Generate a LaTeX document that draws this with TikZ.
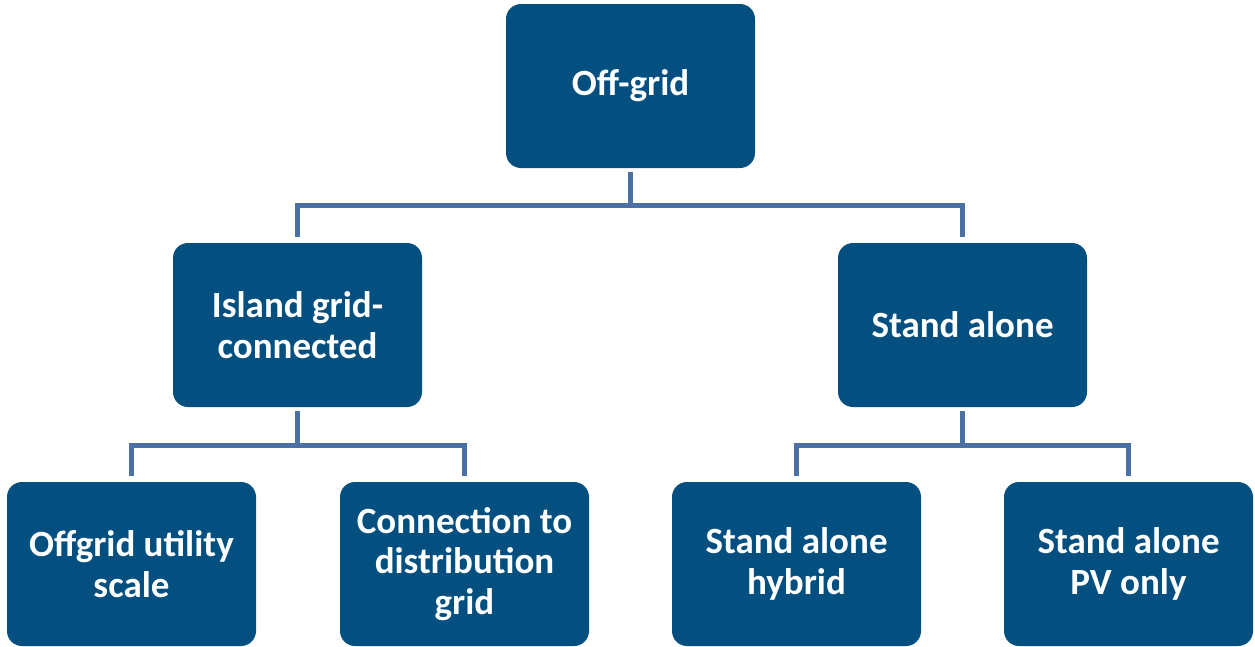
\documentclass[tikz,border=0pt]{standalone}
\usepackage{fontspec}
\setmainfont{Carlito}
\definecolor{boxblue}{RGB}{3,79,127}
\definecolor{linkblue}{RGB}{74,112,166}
\begin{document}
\begin{tikzpicture}[x=1pt,y=-1pt,
  box/.style={draw=none,fill=boxblue,rounded corners=15pt,minimum width=249pt,minimum height=164pt,
    text=white,font=\fontsize{37}{40.5}\selectfont\bfseries,align=center,inner sep=0pt},
  conn/.style={draw=linkblue,line width=5pt,shorten <=4pt,shorten >=6pt}]
\useasboundingbox (0,0) rectangle (1255,646);
\begin{scope}
\clip (0,0) rectangle (1255,646);
\node[box] (top) at (630.5,86) {Off-grid};
\node[box] (island) at (297.5,325) {Island grid-\\connected};
\node[box] (stand) at (962.5,325) {Stand alone};
\node[box] (util) at (131.5,564) {Offgrid utility\\scale};
\node[box] (dist) at (464.5,564) {Connection to\\distribution\\grid};
\node[box] (hyb) at (796.5,564) {Stand alone\\hybrid};
\node[box] (pv) at (1128.5,564) {Stand alone\\PV only};
\end{scope}
\coordinate (j1) at (630.5,205);
\coordinate (j2) at (297.5,445);
\coordinate (j3) at (962.5,445);
\draw[conn] (top.south) -- (j1) -| (island.north);
\draw[conn] (top.south) -- (j1) -| (stand.north);
\draw[conn] (island.south) -- (j2) -| (util.north);
\draw[conn] (island.south) -- (j2) -| (dist.north);
\draw[conn] (stand.south) -- (j3) -| (hyb.north);
\draw[conn] (stand.south) -- (j3) -| (pv.north);
\end{tikzpicture}
\end{document}
